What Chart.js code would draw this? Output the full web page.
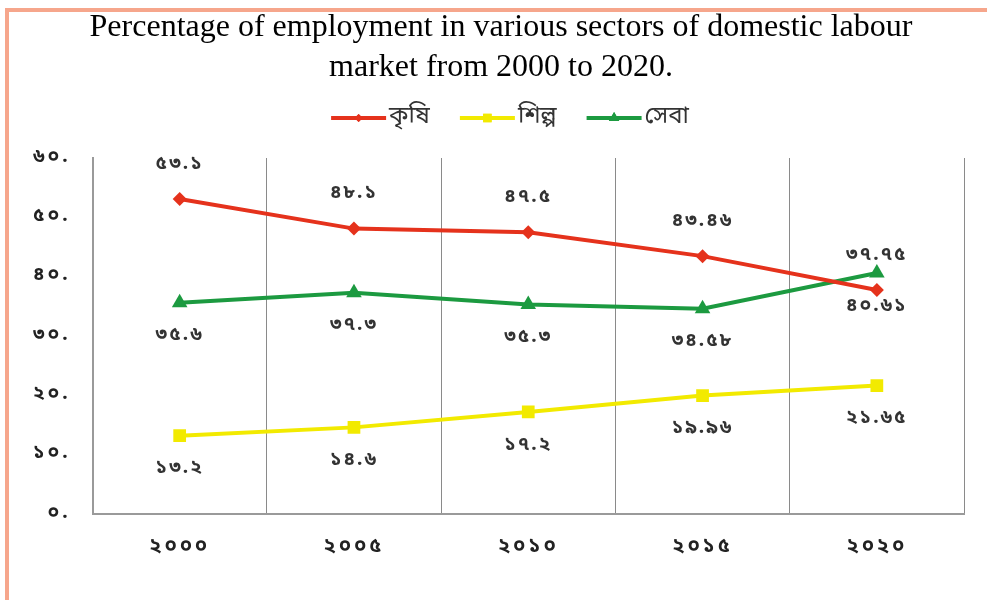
<!DOCTYPE html>
<html>
<head>
<meta charset="utf-8">
<script src="https://cdn.jsdelivr.net/npm/chart.js@4"></script>
<style>
  html, body { margin: 0; padding: 0; background: #fff; }
  #wrap { position: relative; width: 987px; height: 600px; overflow: hidden; }
  #frame { position: absolute; left: 5px; top: 8px; width: 1000px; height: 700px;
           border-left: 4px solid #f6a68c; border-top: 4px solid #f6a68c; }
  canvas { position: absolute; left: 0; top: 0; }
</style>
</head>
<body>
<div id="wrap">
  <div id="frame"></div>
  <canvas id="c" width="987" height="600"></canvas>
</div>
<script>
const years = [2000, 2005, 2010, 2015, 2020];
const seriesNames = ['কৃষি', 'শিল্প', 'সেবা'];
const krishi = [53.1, 48.1, 47.5, 43.46, 37.75];
const shilpo = [13.2, 14.6, 17.2, 19.96, 21.65];
const seba = [35.6, 37.3, 35.3, 34.58, 40.61];
const yTicks = [0, 10, 20, 30, 40, 50, 60];
const titleLines = ['Percentage of employment in various sectors of domestic labour', 'market from 2000 to 2020.'];

const bnDigits = ['০','১','২','৩','৪','৫','৬','৭','৮','৯'];
function toBn(s) { return String(s).replace(/[0-9]/g, d => bnDigits[+d]); }

const BN_FONT = '"Noto Sans Bengali", "Lohit Bengali", "Noto Sans", sans-serif';
const colors = ['#e5321c', '#f2ea00', '#1c9a40'];
const pstyles = ['rectRot', 'rect', 'triangle'];
const pradius = [7, 9, 9];

const labelPlugin = {
  id: 'labels',
  beforeDraw(chart) {
    chart.ctx.letterSpacing = '3px';
  },
  afterDatasetsDraw(chart) {
    const ctx = chart.ctx;
    ctx.save();
    ctx.letterSpacing = '2px';
    ctx.font = 'bold 19px ' + BN_FONT;
    ctx.fillStyle = '#333';
    ctx.textAlign = 'center';
    ctx.textBaseline = 'middle';
    chart.data.datasets.forEach((ds, di) => {
      const meta = chart.getDatasetMeta(di);
      meta.data.forEach((pt, i) => {
        const off = di === 0 ? -34 : 34;
        ctx.fillText(toBn(ds.data[i]), pt.x, pt.y + off);
      });
    });
    ctx.restore();
  },
  afterDraw(chart) {
    const ctx = chart.ctx;
    ctx.save();
    ctx.letterSpacing = '0px';
    // Title
    ctx.font = '32px "Liberation Serif", "Times New Roman", serif';
    ctx.fillStyle = '#000';
    ctx.textAlign = 'center';
    ctx.textBaseline = 'middle';
    ctx.fillText(titleLines[0], 501, 28);
    ctx.fillText(titleLines[1], 501, 68);
    // Legend
    ctx.font = '24px ' + BN_FONT;
    ctx.textAlign = 'left';
    const items = chart.data.datasets.map((ds, i) => ({ds, i, w: ctx.measureText(ds.label).width}));
    const lineW = 55, gap = 3, sep = 30;
    let total = 0;
    items.forEach(it => total += lineW + gap + it.w);
    total += sep * (items.length - 1);
    let x = 510 - total / 2;
    const y = 118;
    items.forEach(it => {
      ctx.strokeStyle = it.ds.borderColor;
      ctx.lineWidth = 4;
      ctx.beginPath(); ctx.moveTo(x, y); ctx.lineTo(x + lineW, y); ctx.stroke();
      ctx.fillStyle = it.ds.borderColor;
      ctx.beginPath();
      Chart.helpers.drawPoint(ctx, {pointStyle: it.ds.pointStyle, radius: it.i === 0 ? 4 : 6, borderWidth: 0}, x + lineW / 2, y);
      ctx.fill();
      ctx.fillStyle = '#333';
      ctx.fillText(it.ds.label, x + lineW + gap, y);
      x += lineW + gap + it.w + sep;
    });
    ctx.restore();
  }
};

const datasets = [krishi, shilpo, seba].map((d, i) => ({
  label: seriesNames[i],
  data: d,
  borderColor: colors[i],
  backgroundColor: colors[i],
  borderWidth: 4,
  pointStyle: pstyles[i],
  pointRadius: pradius[i],
  pointBorderWidth: 0,
  pointBackgroundColor: colors[i],
  tension: 0
}));

new Chart(document.getElementById('c'), {
  type: 'line',
  data: { labels: years.map(toBn), datasets },
  options: {
    responsive: false,
    animation: false,
    layout: { padding: { top: 158, left: 20, right: 23, bottom: 18 } },
    plugins: { legend: { display: false }, title: { display: false }, tooltip: { enabled: false } },
    scales: {
      x: {
        offset: true,
        grid: { offset: true, display: true, color: '#8a8a8a', lineWidth: 1, drawTicks: false },
        border: { display: true, color: '#9a9a9a', width: 2 },
        ticks: { color: '#222', font: { size: 20, weight: 'bold', family: BN_FONT }, padding: 22 }
      },
      y: {
        min: 0, max: 60,
        afterBuildTicks(axis) { axis.ticks = yTicks.map(v => ({value: v})); },
        grid: { display: false, drawTicks: false },
        border: { display: true, color: '#9a9a9a', width: 2 },
        ticks: { color: '#222', font: { size: 19, weight: 'bold', family: BN_FONT }, padding: 22,
                 callback: v => toBn(v) + '.' }
      }
    }
  },
  plugins: [labelPlugin]
});
</script>
</body>
</html>
